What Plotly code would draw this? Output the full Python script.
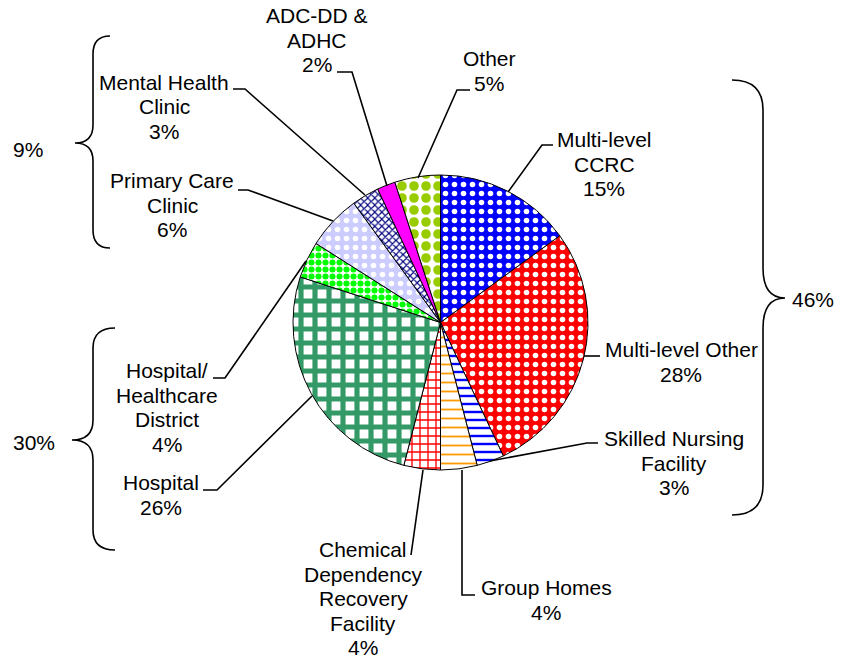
import plotly.graph_objects as go

W, H = 857, 660

# ---------------- data ----------------
categories = ["Multi-level CCRC", "Multi-level Other", "Skilled Nursing Facility",
              "Group Homes", "Chemical Dependency Recovery Facility", "Hospital",
              "Hospital/ Healthcare District", "Primary Care Clinic",
              "Mental Health Clinic", "ADC-DD & ADHC", "Other"]
display_lines = [["Multi-level", "CCRC"], ["Multi-level Other"], ["Skilled Nursing", "Facility"],
                 ["Group Homes"], ["Chemical", "Dependency", "Recovery", "Facility"], ["Hospital"],
                 ["Hospital/", "Healthcare", "District"], ["Primary Care", "Clinic"],
                 ["Mental Health", "Clinic"], ["ADC-DD &", "ADHC"], ["Other"]]
values = [15, 28, 3, 4, 4, 26, 4, 6, 3, 2, 5]

group_labels = ["9%", "30%", "46%"]

# ---------------- styles ----------------
bg_colors = ["#0000ff", "#ff0000", "#ffffff", "#ffffff", "#ffffff", "#ffffff",
             "#ffffff", "#ccccff", "#ffffff", "#ff00ff", "#ffffff"]
fg_colors = ["#ffffff", "#ffffff", "#0000ff", "#ff9900", "#ff0000", "#339966",
             "#00ff00", "#ffffff", "#000080", "#ff00ff", "#99cc00"]
shapes_pat = [".", ".", "-", "-", "+", "+", ".", ".", "x", "", "."]
sizes_pat = [9, 9, 8, 9, 8, 14, 7, 9, 5, 8, 12]
solid_pat = [0.3, 0.3, 0.3, 0.2, 0.3, 0.6, 0.6, 0.3, 0.4, 0.3, 0.5]


def px(x):
    return x / W


def py(y):
    return 1 - y / H


fig = go.Figure()
fig.add_trace(go.Pie(
    labels=categories,
    values=values,
    sort=False,
    direction="clockwise",
    rotation=0,
    textinfo="none",
    hoverinfo="label+percent",
    showlegend=False,
    domain=dict(x=[px(293), px(588)], y=[py(470), py(175)]),
    marker=dict(
        colors=bg_colors,
        line=dict(color="#000000", width=1),
        pattern=dict(shape=shapes_pat, fgcolor=fg_colors, bgcolor=bg_colors,
                     size=sizes_pat, solidity=solid_pat, fillmode="replace"),
    ),
))

# label positions: (center x, first baseline y) in pixels
label_pos = [(604, 147), (681, 357), (674, 446), (546, 595), (363, 557),
             (161, 490), (167, 378), (172, 188), (164, 89.5), (317, 23), (489, 66)]
LINE = 24.5
FS = 21

# leader lines (pixel polylines)
leaders = [
    [(553, 145), (542, 145), (508, 192)],
    [(600, 356), (584, 356)],
    [(598, 443), (587, 443), (490, 461)],
    [(462, 470), (462, 595), (475, 595)],
    [(423, 470), (411, 555)],
    [(203, 490), (217, 490), (312, 396)],
    [(213, 378), (225, 378), (306, 261)],
    [(238, 190), (248, 190), (333, 221)],
    [(233, 89), (245, 89), (365, 195)],
    [(337, 72), (352, 72), (387, 186)],
    [(470, 90), (457, 90), (418, 178)],
]

font = dict(family="Liberation Sans, Arial, sans-serif", size=FS, color="#000000")
annotations = []


def add_line(text, x, baseline):
    yc = baseline - 0.3465 * FS
    annotations.append(dict(text=text, x=px(x), y=py(yc), xref="paper", yref="paper",
                            showarrow=False, xanchor="center", yanchor="middle", font=font))


for lines, v, (x, y0) in zip(display_lines, values, label_pos):
    for i, t in enumerate(lines + [f"{v}%"]):
        add_line(t, x, y0 + i * LINE)

group_pos = [(28, 157), (34, 450), (813, 307)]
for t, (x, y) in zip(group_labels, group_pos):
    add_line(t, x, y)

shapes = []
for pts in leaders:
    d = "M " + " L ".join(f"{px(x):.5f},{py(y):.5f}" for x, y in pts)
    shapes.append(dict(type="path", path=d, xref="paper", yref="paper",
                       line=dict(color="#000000", width=1.6)))


def brace(x_end, x_line, x_tip, y_top, y_mid, y_bot, r):
    P = lambda x, y: f"{px(x):.5f},{py(y):.5f}"
    return ("M " + P(x_end, y_top) + " Q " + P(x_line, y_top) + " " + P(x_line, y_top + r) +
            " L " + P(x_line, y_mid - r) + " Q " + P(x_line, y_mid) + " " + P(x_tip, y_mid) +
            " Q " + P(x_line, y_mid) + " " + P(x_line, y_mid + r) +
            " L " + P(x_line, y_bot - r) + " Q " + P(x_line, y_bot) + " " + P(x_end, y_bot))


braces = [(110, 93, 75, 36, 143, 248, 18), (115, 93, 72, 328, 440, 550, 20),
          (732, 763, 785, 80, 298, 515, 30)]
for b in braces:
    shapes.append(dict(type="path", path=brace(*b), xref="paper", yref="paper",
                       line=dict(color="#000000", width=1.6)))

fig.update_layout(
    width=W, height=H,
    margin=dict(l=0, r=0, t=0, b=0),
    paper_bgcolor="#ffffff", plot_bgcolor="#ffffff",
    annotations=annotations,
    shapes=shapes,
)

fig.write_html("out.html")
